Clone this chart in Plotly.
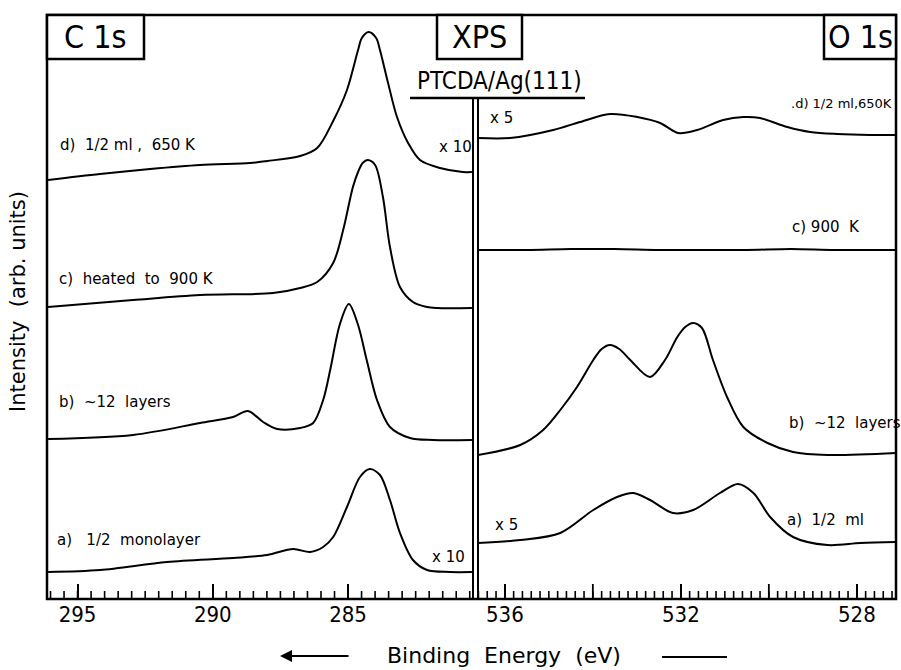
import plotly.graph_objects as go

# ---------------- data (binding energy in eV, stacked intensity in arb. units) -------------
# C 1s panel
c1s_d_E = [296.09, 294.17, 292.32, 290.47, 288.62, 287.99, 286.77, 286.14, 285.55, 285.04, 284.63,
           284.49, 284.24, 283.96, 283.82, 283.52, 283.19, 282.78, 282.34, 281.60, 280.76, 280.42]
c1s_d_I = [419, 425, 430, 434, 436, 438, 443, 451, 478, 509, 549,
           561, 567, 561, 549, 516, 482, 456, 439, 431, 427, 427]

c1s_c_E = [296.09, 292.95, 290.47, 287.77, 286.77, 286.14, 285.55, 285.18, 284.82, 284.63, 284.46,
           284.27, 284.00, 283.71, 283.45, 283.08, 282.60, 282.08, 281.71, 280.42]
c1s_c_I = [292, 299, 304, 306, 311, 317, 336, 369, 412, 427, 436,
           439, 434, 402, 352, 312, 297, 292, 291, 291]

c1s_b_E = [296.09, 292.95, 290.47, 289.25, 288.70, 288.14, 287.62, 286.77, 286.29, 285.92, 285.66,
           285.30, 284.97, 284.64, 284.31, 283.93, 283.45, 282.71, 281.86, 280.42]
c1s_b_I = [160, 164, 176, 182, 188, 177, 170, 171, 176, 199, 229,
           275, 295, 275, 239, 199, 172, 161, 159, 159]

c1s_a_E = [296.09, 294.17, 291.69, 289.25, 287.99, 287.03, 286.40, 285.92, 285.55, 285.04, 284.56,
           284.20, 283.82, 283.45, 283.08, 282.60, 282.08, 281.24, 280.42]
c1s_a_I = [27, 29, 37, 41, 44, 50, 47, 52, 62, 92, 122,
           130, 124, 99, 66, 39, 29, 27, 27]

# O 1s panel
o1s_d_E = [536.61, 535.88, 534.90, 534.29, 533.61, 532.99, 532.47, 532.06, 531.63, 531.04, 530.58,
           530.20, 529.58, 529.06, 528.45, 527.70, 527.11]
o1s_d_I = [461, 461, 469, 477, 485, 482, 476, 466, 469, 479, 482,
           481, 472, 467, 465, 464, 464]

o1s_c_E = [536.61, 535.5, 534.5, 533.5, 532.5, 531.5, 530.5, 529.5, 528.5, 527.11]
o1s_c_I = [349, 349, 350, 350, 349, 349, 349, 350, 349, 349]

o1s_b_E = [536.61, 535.65, 535.13, 534.74, 534.36, 533.99, 533.80, 533.61, 533.40, 533.15, 532.70,
           532.36, 532.08, 531.90, 531.72, 531.52, 531.27, 530.95, 530.58, 530.03, 529.45, 528.67, 527.11]
o1s_b_I = [144, 154, 169, 189, 212, 239, 250, 254, 250, 239, 222,
           239, 262, 272, 276, 271, 239, 202, 172, 156, 147, 144, 146]

o1s_a_E = [536.61, 535.65, 534.74, 533.99, 533.45, 533.08, 532.70, 532.18, 531.72, 531.11, 530.70,
           530.35, 529.97, 529.45, 528.67, 527.92, 527.11]
o1s_a_I = [56, 59, 66, 89, 102, 106, 99, 86, 89, 106, 115,
           106, 82, 62, 54, 56, 57]

# tick layout
c1s_tick0, c1s_dtick, c1s_minor = 295, 5, 0.5
o1s_tick0, o1s_dtick, o1s_minor = 528, 4, 0.2
o1s_unlabelled_ticks = [534, 530]

C1S_RANGE = [296.13, 280.38]
O1S_RANGE = [536.61, 527.11]

# ---------------- figure -------------
FONT = "DejaVu Sans Condensed, Liberation Sans Narrow, Liberation Sans, Arial, sans-serif"
LFONT = "DejaVu Sans, Liberation Sans, Arial, sans-serif"

fig = go.Figure()
for E, I in [(c1s_d_E, c1s_d_I), (c1s_c_E, c1s_c_I), (c1s_b_E, c1s_b_I), (c1s_a_E, c1s_a_I)]:
    fig.add_trace(go.Scatter(x=E, y=I, mode="lines", line=dict(color="black", width=2, shape="spline", smoothing=0.9),
                             xaxis="x", yaxis="y", showlegend=False, hoverinfo="skip"))
for E, I in [(o1s_d_E, o1s_d_I), (o1s_c_E, o1s_c_I), (o1s_b_E, o1s_b_I), (o1s_a_E, o1s_a_I)]:
    fig.add_trace(go.Scatter(x=E, y=I, mode="lines", line=dict(color="black", width=2, shape="spline", smoothing=0.9),
                             xaxis="x2", yaxis="y2", showlegend=False, hoverinfo="skip"))

W, H = 901, 670
L, R, T, B = 47, 896, 15, 599
pw, ph = R - L, B - T
def px(xp):
    return (xp - L) / pw
def py(yp):
    return (B - yp) / ph

xl_end = px(473)
xr_start = px(478)

# minor tick marks (axis decoration) drawn as short vertical segments standing on the bottom axis
def tick_positions(lo, hi, step):
    n0 = int(round(lo / step))
    n1 = int(round(hi / step))
    return [round(k * step, 3) for k in range(n0, n1 + 1) if lo <= k * step <= hi]

c1s_minor_pos = tick_positions(min(C1S_RANGE), max(C1S_RANGE), c1s_minor)
o1s_minor_pos = tick_positions(min(O1S_RANGE), max(O1S_RANGE), o1s_minor)

def tick_segments(pos, length):
    xs, ys = [], []
    for p in pos:
        xs += [p, p, None]
        ys += [0, length, None]
    return xs, ys

for pos, xa, ya, ln, w in [(c1s_minor_pos, "x", "y", 8, 1.6), (o1s_minor_pos, "x2", "y2", 8, 1.6),
                           (o1s_unlabelled_ticks, "x2", "y2", 15, 1.8)]:
    sx, sy = tick_segments(pos, ln)
    fig.add_trace(go.Scatter(x=sx, y=sy, xaxis=xa, yaxis=ya, mode="lines",
                             line=dict(color="black", width=w),
                             showlegend=False, hoverinfo="skip"))

hidden = dict(showgrid=False, zeroline=False, showline=False)
axis_common = dict(ticks="inside", ticklen=15, tickwidth=1.8, tickcolor="black",
                   tickfont=dict(family=FONT, size=22, color="black"), **hidden)

fig.update_layout(
    width=W, height=H,
    margin=dict(l=L, r=W - R, t=T, b=H - B),
    paper_bgcolor="white", plot_bgcolor="white",
    xaxis=dict(domain=[0, xl_end], range=C1S_RANGE, tickmode="linear", tick0=c1s_tick0, dtick=c1s_dtick,
               anchor="y", **axis_common),
    xaxis2=dict(domain=[xr_start, 1], range=O1S_RANGE, tickmode="linear", tick0=o1s_tick0, dtick=o1s_dtick,
                anchor="y2", **axis_common),
    yaxis=dict(domain=[0, 1], range=[0, 584], showticklabels=False, ticks="", **hidden),
    yaxis2=dict(domain=[0, 1], range=[0, 584], showticklabels=False, ticks="", anchor="x2", **hidden),
)

shapes = []
frame = dict(color="black", width=2.5)
shapes.append(dict(type="rect", xref="paper", yref="paper", x0=0, x1=1, y0=0, y1=1, line=frame))
for xs in (xl_end, xr_start):
    shapes.append(dict(type="line", xref="paper", yref="paper", x0=xs, x1=xs, y0=0, y1=py(98),
                       line=dict(color="black", width=2)))
shapes.append(dict(type="line", xref="paper", yref="paper", x0=px(410), x1=px(585), y0=py(98), y1=py(98),
                   line=dict(color="black", width=2.5)))
for x0, x1 in [(47, 144), (437, 522), (824, 896)]:
    shapes.append(dict(type="rect", xref="paper", yref="paper", x0=px(x0), x1=px(x1), y0=py(59), y1=1,
                       line=frame, fillcolor="white"))
shapes.append(dict(type="line", xref="paper", yref="paper", x0=px(662), x1=px(727), y0=py(657), y1=py(657),
                   line=dict(color="black", width=2)))
fig.update_layout(shapes=shapes)

ann = []
def A(text, x, y, xref, yref, size=17, xanchor="left", family=LFONT, **kw):
    ann.append(dict(text=text, x=x, y=y, xref=xref, yref=yref, showarrow=False, xanchor=xanchor,
                    yanchor="middle", font=dict(family=family, size=size, color="black"), **kw))

BOX = 32
A("C 1s", px(95.5), py(37), "paper", "paper", size=BOX, xanchor="center", family=FONT)
A("XPS", px(479.5), py(37), "paper", "paper", size=BOX, xanchor="center", family=FONT)
A("O 1s", px(860), py(37), "paper", "paper", size=BOX, xanchor="center", family=FONT)
A("PTCDA/Ag(111)", px(499), py(81), "paper", "paper", size=24, xanchor="center", family=FONT)

LS = 15
# C 1s labels
A("d)  1/2 ml ,  650 K", 295.72, 454, "x", "y", size=LS)
A("x 10", 281.71, 452, "x", "y", size=LS)
A("c)  heated  to  900 K", 295.76, 320, "x", "y", size=LS)
A("b)  ~12  layers", 295.76, 197, "x", "y", size=LS)
A("a)   1/2  monolayer", 295.83, 59, "x", "y", size=LS)
A("x 10", 281.97, 42, "x", "y", size=LS)
# O 1s labels
A("x 5", 536.38, 481, "x2", "y2", size=LS)
A(".d) 1/2 ml,650K", px(894), 496 / 584, "paper", "paper", size=13, xanchor="right")
A("c) 900  K", 529.51, 372, "x2", "y2", size=LS)
A("b)  ~12  layers", 529.58, 176, "x2", "y2", size=LS)
A("a)  1/2  ml", 529.63, 79, "x2", "y2", size=LS)
A("x 5", 536.27, 74, "x2", "y2", size=LS)

A("Intensity  (arb. units)", px(18), py(302), "paper", "paper", size=21, xanchor="center", textangle=-90)
A("Binding  Energy  (eV)", px(504), py(656), "paper", "paper", size=22, xanchor="center")
ann.append(dict(text="", x=px(280), y=py(656), xref="paper", yref="paper", showarrow=True,
                ax=70, ay=0, arrowhead=2, arrowsize=1.2, arrowwidth=2, arrowcolor="black"))
fig.update_layout(annotations=ann)

fig.write_html("out.html")
